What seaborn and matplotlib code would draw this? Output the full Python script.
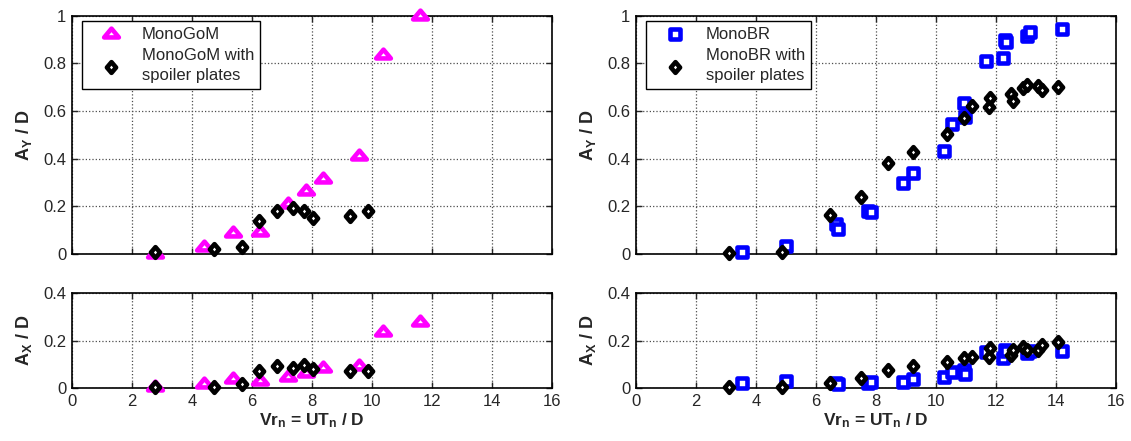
import matplotlib
matplotlib.use("Agg")
import matplotlib.pyplot as plt
from matplotlib.path import Path
from matplotlib.ticker import FormatStrFormatter
import seaborn as sns

# ---- MonoGoM (left) ----
gom_vr = [2.76, 4.40, 5.36, 6.25, 7.20, 7.80, 8.37, 9.57, 10.35, 11.60]
gom_ay = [0.00, 0.03, 0.09, 0.093, 0.21, 0.266, 0.315, 0.41, 0.835, 1.00]
gom_ax = [0.007, 0.02, 0.038, 0.03, 0.049, 0.066, 0.086, 0.093, 0.235, 0.28]

gom_sp_vr = [2.76, 4.74, 5.68, 6.23, 6.83, 7.36, 7.74, 8.03, 9.26, 9.86]
gom_sp_ay = [0.01, 0.02, 0.03, 0.14, 0.18, 0.195, 0.18, 0.15, 0.16, 0.18]
gom_sp_ax = [0.007, 0.007, 0.02, 0.072, 0.093, 0.084, 0.098, 0.08, 0.072, 0.072]

# ---- MonoBR (right) ----
br_vr = [3.53, 5.00, 6.68, 6.72, 7.75, 7.85, 8.90, 9.25, 10.28, 10.55,
         10.95, 10.98, 11.67, 12.22, 12.30, 12.35, 13.05, 13.13, 14.20]
br_ay = [0.007, 0.035, 0.125, 0.105, 0.18, 0.178, 0.297, 0.339, 0.434, 0.544,
         0.632, 0.574, 0.81, 0.824, 0.898, 0.89, 0.915, 0.932, 0.946]
br_ax = [0.021, 0.031, 0.022, 0.020, 0.024, 0.025, 0.026, 0.038, 0.049, 0.068,
         0.079, 0.061, 0.153, 0.128, 0.163, 0.155, 0.150, 0.159, 0.159]

br_sp_vr = [3.10, 4.86, 6.47, 7.50, 8.40, 9.22, 10.37, 10.94, 11.19, 11.78,
            11.81, 12.50, 12.56, 12.91, 13.04, 13.40, 13.55, 14.08]
br_sp_ay = [0.003, 0.01, 0.164, 0.24, 0.38, 0.43, 0.504, 0.57, 0.62, 0.616,
            0.656, 0.671, 0.64, 0.695, 0.709, 0.705, 0.688, 0.70]
br_sp_ax = [0.007, 0.007, 0.021, 0.045, 0.075, 0.096, 0.111, 0.128, 0.132, 0.13,
            0.17, 0.142, 0.163, 0.174, 0.163, 0.163, 0.184, 0.194]

x_ticks = [0, 2, 4, 6, 8, 10, 12, 14, 16]

sns.set_style("ticks")
plt.rcParams["font.family"] = ["Liberation Sans", "DejaVu Sans"]
plt.rcParams["mathtext.fontset"] = "custom"
plt.rcParams["mathtext.rm"] = "Liberation Sans"
plt.rcParams["mathtext.bf"] = "Liberation Sans:bold"
plt.rcParams["mathtext.it"] = "Liberation Sans:italic"

# MATLAB-like markers
tri = Path([(-1, -0.4), (1, -0.4), (0, 0.8), (-1, -0.4)], closed=True)
dia = Path([(0, 1), (0.85, 0), (0, -1), (-0.85, 0), (0, 1)], closed=True)

fig = plt.figure(figsize=(11.31, 4.41), dpi=100)
ax_tl = fig.add_axes([0.0637, 0.4240, 0.4244, 0.5404])
ax_bl = fig.add_axes([0.0637, 0.1195, 0.4244, 0.2154])
ax_tr = fig.add_axes([0.5623, 0.4240, 0.4244, 0.5404])
ax_br = fig.add_axes([0.5623, 0.1195, 0.4244, 0.2154])

mag = "#FF00FF"
blu = "#0000FF"


def pts(ax, x, y, marker, s, edge, label=None):
    sns.scatterplot(x=x, y=y, ax=ax, marker=marker, s=s, color="white",
                    edgecolor=edge, linewidth=3.3, label=label, legend=False,
                    zorder=3, clip_on=False)


pts(ax_tl, gom_vr, gom_ay, tri, 112, mag, "MonoGoM")
pts(ax_tl, gom_sp_vr, gom_sp_ay, dia, 60, "k", "MonoGoM with\nspoiler plates")
pts(ax_bl, gom_vr, gom_ax, tri, 112, mag)
pts(ax_bl, gom_sp_vr, gom_sp_ax, dia, 60, "k")

pts(ax_tr, br_vr, br_ay, "s", 42, blu, "MonoBR")
pts(ax_tr, br_sp_vr, br_sp_ay, dia, 60, "k", "MonoBR with\nspoiler plates")
pts(ax_br, br_vr, br_ax, "s", 42, blu)
pts(ax_br, br_sp_vr, br_sp_ax, dia, 60, "k")

for ax, top in [(ax_tl, True), (ax_tr, True), (ax_bl, False), (ax_br, False)]:
    ax.set_xlim(0, 16)
    ax.set_xticks(x_ticks)
    if top:
        ax.set_ylim(0, 1)
        ax.set_yticks([0, 0.2, 0.4, 0.6, 0.8, 1.0])
        ax.set_ylabel(r"A$_{\mathbf{Y}}$ / D", fontsize=13, fontweight="bold", labelpad=7)
        ax.tick_params(labelbottom=False)
        ax.set_xlabel("")
    else:
        ax.set_ylim(0, 0.4)
        ax.set_yticks([0, 0.2, 0.4])
        ax.set_ylabel(r"A$_{\mathbf{X}}$ / D", fontsize=13, fontweight="bold", labelpad=7)
        ax.set_xlabel(r"Vr$_{\mathbf{n}}$ = UT$_{\mathbf{n}}$ / D", fontsize=12.5,
                      fontweight="bold", labelpad=2)
    ax.yaxis.set_major_formatter(FormatStrFormatter("%g"))
    ax.tick_params(direction="in", top=True, right=True, length=4, width=1,
                   labelsize=12, pad=4)
    ax.grid(True, color="0.3", linestyle=":", linewidth=0.9)
    ax.set_axisbelow(True)
    for sp in ax.spines.values():
        sp.set_linewidth(1.2)
        sp.set_color("k")
        sp.set_visible(True)

for ax in (ax_tl, ax_tr):
    leg = ax.legend(loc="upper left", bbox_to_anchor=(0.021, 0.979), borderaxespad=0,
                    fontsize=12, fancybox=False, edgecolor="k", framealpha=1,
                    borderpad=0.35, handlelength=2.8, handletextpad=0.45,
                    labelspacing=0.4)
    leg.get_frame().set_linewidth(1.0)
    for t in leg.get_texts():
        t.set_linespacing(1.4)

fig.savefig("out.png", dpi=100)
